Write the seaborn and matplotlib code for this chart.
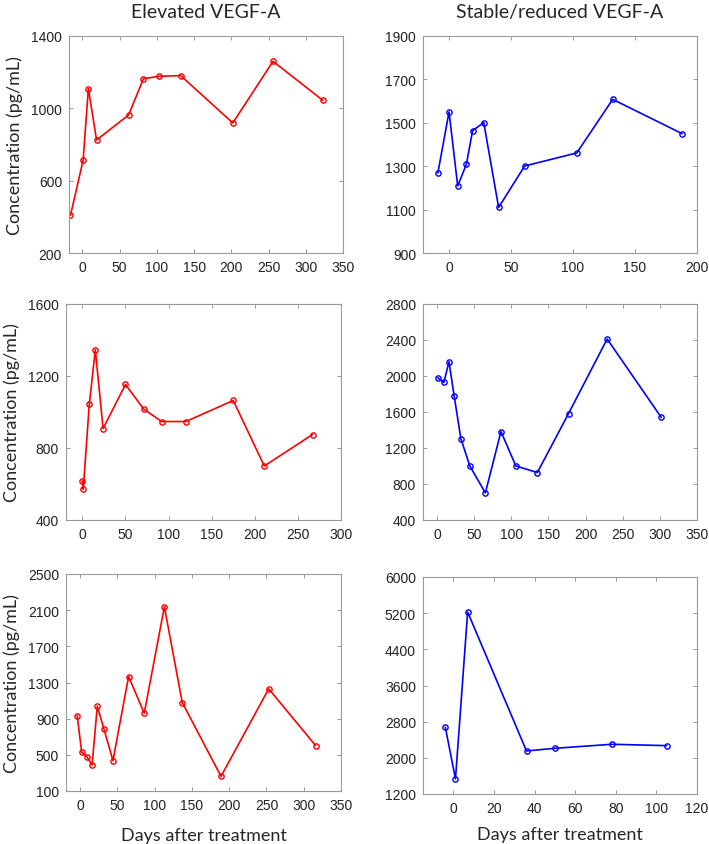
import numpy as np
import pandas as pd
import matplotlib
matplotlib.use('Agg')
import matplotlib.pyplot as plt
import seaborn as sns

# panel data (days after treatment, concentration pg/mL)
p1_days = [-16, 1, 8, 19, 62, 82, 103, 132, 202, 256, 323]
p1_conc = [408, 714, 1109, 825, 963, 1164, 1177, 1181, 919, 1260, 1044]

p2_days = [-9, 0, 7, 14, 19, 28, 40, 61, 103, 132, 188]
p2_conc = [1269, 1550, 1209, 1309, 1464, 1501, 1110, 1301, 1361, 1608, 1450]

p3_days = [0, 1, 8, 15, 24, 50, 71, 92, 120, 175, 211, 267]
p3_conc = [617, 570, 1042, 1346, 908, 1153, 1017, 947, 947, 1064, 700, 875]

p4_days = [1, 9, 16, 23, 32, 44, 65, 86, 106, 135, 177, 229, 302]
p4_conc = [1980, 1928, 2158, 1776, 1305, 1001, 701, 1383, 1001, 927, 1583, 2411, 1539]

p5_days = [-4, 2, 9, 16, 23, 32, 44, 65, 86, 113, 137, 189, 253, 316]
p5_conc = [934, 532, 480, 388, 1038, 783, 436, 1366, 960, 2138, 1078, 262, 1230, 602]

p6_days = [-4, 1, 7, 36, 50, 78, 105]
p6_conc = [2677, 1532, 5225, 2152, 2211, 2300, 2270]

col_titles = ['Elevated VEGF-A', 'Stable/reduced VEGF-A']
ylab = 'Concentration (pg/mL)'
xlab = 'Days after treatment'

sns.set_style('white')
plt.rcParams['font.family'] = ['Liberation Sans', 'DejaVu Sans']

W, H = 709, 845
fig = plt.figure(figsize=(W / 100, H / 100), dpi=100)

def box(l, t, r, b):
    return [l / W, 1 - b / H, (r - l) / W, (b - t) / H]

panels = [
    (p1_days, p1_conc, 'red', box(69, 37, 343, 254), (-18, 350), np.arange(0, 351, 50), (200, 1400), np.arange(200, 1401, 400)),
    (p2_days, p2_conc, 'blue', box(423, 37, 697, 254), (-21, 200), np.arange(0, 201, 50), (900, 1900), np.arange(900, 1901, 200)),
    (p3_days, p3_conc, 'red', box(66, 305, 341, 521), (-19, 300), np.arange(0, 301, 50), (400, 1600), np.arange(400, 1601, 400)),
    (p4_days, p4_conc, 'blue', box(423, 305, 697, 521), (-19, 350), np.arange(0, 351, 50), (400, 2800), np.arange(400, 2801, 400)),
    (p5_days, p5_conc, 'red', box(66, 575, 341, 792), (-19, 350), np.arange(0, 351, 50), (100, 2500), np.arange(100, 2501, 400)),
    (p6_days, p6_conc, 'blue', box(423, 578, 697, 795), (-15, 120), np.arange(0, 121, 20), (1200, 6000), np.arange(1200, 6001, 800)),
]

lato = ['Lato', 'DejaVu Sans']
for i, (d, c, col, pos, xl, xt, yl, yt) in enumerate(panels):
    ax = fig.add_axes(pos)
    df = pd.DataFrame({'day': d, 'conc': c})
    sns.lineplot(data=df, x='day', y='conc', ax=ax, color=col, sort=False,
                 linewidth=1.2, marker='o', markersize=3.8, markerfacecolor='none',
                 markeredgecolor=col, markeredgewidth=1.0)
    ax.set_xlim(*xl)
    ax.set_ylim(*yl)
    ax.set_xticks(xt)
    ax.set_yticks(yt)
    ax.set_xlabel('')
    ax.set_ylabel('')
    ax.tick_params(direction='in', length=3, width=0.6, color='#888888',
                   labelsize=10, labelcolor='#222222', top=True, right=True,
                   bottom=True, left=True, pad=5)
    for s in ax.spines.values():
        s.set_color('#999999')
        s.set_linewidth(0.8)
        s.set_visible(True)
    if i % 2 == 0:
        ax.set_ylabel(ylab, family=lato, fontsize=13, labelpad=6)
    if i < 2:
        ax.set_title(col_titles[i], family=lato, fontsize=14, pad=14)
    if i == 4:
        ax.set_xlabel(xlab, family=lato, fontsize=13, labelpad=11)
    if i == 5:
        ax.set_xlabel(xlab, family=lato, fontsize=13, labelpad=8)

fig.savefig('out.png', dpi=100)
